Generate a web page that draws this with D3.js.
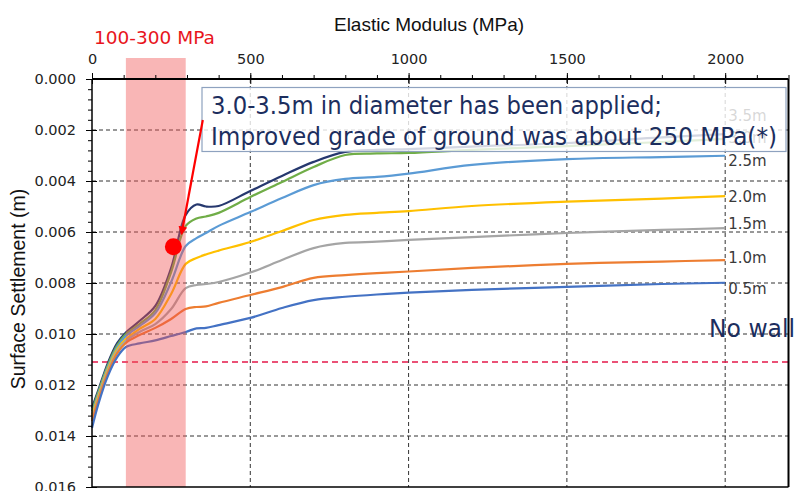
<!DOCTYPE html>
<html>
<head>
<meta charset="utf-8">
<script src="https://cdn.jsdelivr.net/npm/d3@7"></script>
<style>
  body { margin: 0; background: #fff; }
  svg { display: block; }
</style>
</head>
<body>
<script>
// elastic modulus of improved ground (MPa), shared by every series
const modulus = [0, 20, 50, 80, 107, 150, 200, 250, 296, 330, 360, 400, 500, 600, 700, 800, 900, 1000, 1200, 1500, 1800, 2000];

// surface settlement (m) for each wall diameter
const wall35 = [0.01290, 0.01220, 0.01114, 0.01035, 0.00994, 0.00949, 0.00890, 0.00741, 0.00533, 0.00492, 0.00500, 0.00498, 0.00439, 0.00380, 0.00325, 0.00286, 0.00278, 0.00275, 0.00265, 0.00251, 0.00229, 0.00216];
const wall30 = [0.01302, 0.01227, 0.01122, 0.01043, 0.01000, 0.00961, 0.00906, 0.00757, 0.00576, 0.00547, 0.00539, 0.00525, 0.00463, 0.00404, 0.00345, 0.00298, 0.00292, 0.00290, 0.00278, 0.00263, 0.00247, 0.00235];
const wall25 = [0.01314, 0.01235, 0.01129, 0.01051, 0.01008, 0.00969, 0.00918, 0.00796, 0.00655, 0.00624, 0.00604, 0.00576, 0.00522, 0.00467, 0.00416, 0.00392, 0.00384, 0.00371, 0.00337, 0.00314, 0.00306, 0.00301];
const wall20 = [0.01322, 0.01243, 0.01137, 0.01059, 0.01020, 0.00980, 0.00941, 0.00843, 0.00725, 0.00702, 0.00688, 0.00673, 0.00639, 0.00596, 0.00553, 0.00533, 0.00525, 0.00518, 0.00498, 0.00481, 0.00469, 0.00459];
const wall15 = [0.01333, 0.01251, 0.01145, 0.01067, 0.01027, 0.00992, 0.00961, 0.00902, 0.00820, 0.00808, 0.00804, 0.00796, 0.00759, 0.00710, 0.00663, 0.00643, 0.00638, 0.00631, 0.00620, 0.00604, 0.00592, 0.00585];
const wall10 = [0.01341, 0.01259, 0.01153, 0.01075, 0.01035, 0.01004, 0.00976, 0.00941, 0.00902, 0.00894, 0.00892, 0.00878, 0.00847, 0.00816, 0.00780, 0.00769, 0.00761, 0.00755, 0.00741, 0.00725, 0.00716, 0.00710];
const wall05 = [0.01369, 0.01275, 0.01165, 0.01090, 0.01051, 0.01037, 0.01025, 0.01008, 0.00992, 0.00978, 0.00976, 0.00965, 0.00937, 0.00898, 0.00867, 0.00854, 0.00845, 0.00838, 0.00827, 0.00815, 0.00804, 0.00799];

const seriesNames = ["3.5m", "3.0m", "2.5m", "2.0m", "1.5m", "1.0m", "0.5m"];
const seriesValues = [wall35, wall30, wall25, wall20, wall15, wall10, wall05];
const seriesColors = ["#26386e", "#70ad47", "#5b9bd5", "#ffc000", "#a5a5a5", "#ed7d31", "#4472c4"];
const labelDy = [-13, 4, 10, 6, 1, 3, 11];

const xTicks = [0, 500, 1000, 1500, 2000];
const yTicks = [0, 0.002, 0.004, 0.006, 0.008, 0.010, 0.012, 0.014, 0.016];

const noWallSettlement = 0.0111;
const improvedRange = [107, 296];
const chosenPoint = { e: 257, s: 0.00658 };
const arrowFrom = { e: 350, s: 0.00161 };
const arrowTo = { e: 283, s: 0.00606 };

const noteLines = ["3.0-3.5m in diameter has been applied;", "Improved grade of ground was about 250 MPa(*)"];

// dimensions
const margin = { top: 79, right: 6.5, bottom: 4, left: 92 },
    width = 795 - margin.left - margin.right,
    height = 491 - margin.top - margin.bottom;
const plotH = 408;

const svg = d3.select("body")
    .append("svg")
    .attr("width", 795)
    .attr("height", 491);

const g = svg.append("g")
    .attr("transform", `translate(${margin.left},${margin.top})`);

const x = d3.scaleLinear().domain([0, 2200]).range([0, width]);
const y = d3.scaleLinear().domain([0, 0.016]).range([0, plotH]);

const tickFont = "'DejaVu Sans', Verdana, sans-serif";

// grid
g.append("g")
    .selectAll("line")
    .data(yTicks.slice(1, -1))
    .join("line")
    .attr("x1", 0).attr("x2", width)
    .attr("y1", d => y(d)).attr("y2", d => y(d))
    .attr("stroke", "#333").attr("stroke-width", 1)
    .attr("stroke-dasharray", "4,3");

g.append("g")
    .selectAll("line")
    .data(xTicks.slice(1))
    .join("line")
    .attr("x1", d => x(d)).attr("x2", d => x(d))
    .attr("y1", 0).attr("y2", plotH)
    .attr("stroke", "#333").attr("stroke-width", 1)
    .attr("stroke-dasharray", "4,3");

// no wall reference line
g.append("line")
    .attr("x1", 0).attr("x2", width)
    .attr("y1", y(noWallSettlement)).attr("y2", y(noWallSettlement))
    .attr("stroke", "#e4184a").attr("stroke-width", 1.4)
    .attr("stroke-dasharray", "6,4");

// curves
const line = d3.line()
    .x((d, i) => x(modulus[i]))
    .y(d => y(d))
    .curve(d3.curveCatmullRom.alpha(0.5));

g.append("g")
    .selectAll("path")
    .data(seriesValues)
    .join("path")
    .attr("d", d => line(d))
    .attr("fill", "none")
    .attr("stroke", (d, i) => seriesColors[i])
    .attr("stroke-width", 2.2);

// series labels
g.append("g")
    .selectAll("text")
    .data(seriesNames)
    .join("text")
    .attr("x", x(2000) + 3)
    .attr("y", (d, i) => y(seriesValues[i][seriesValues[i].length - 1]) + labelDy[i])
    .attr("font-family", tickFont)
    .attr("font-size", 15)
    .attr("fill", "#3a3a3a")
    .text(d => d);

// 100-300 MPa band
g.append("rect")
    .attr("x", x(improvedRange[0]))
    .attr("width", x(improvedRange[1]) - x(improvedRange[0]))
    .attr("y", -21)
    .attr("height", height + 21)
    .attr("fill", "#f05050")
    .attr("fill-opacity", 0.42);

// axes
g.append("g")
    .call(d3.axisTop(x).tickValues(d3.range(0, 2201, 100)).tickSize(4).tickFormat(""))
    .call(a => a.select(".domain").remove());
g.append("g")
    .call(d3.axisTop(x).tickValues(xTicks).tickSize(-5).tickFormat(""))
    .call(a => a.select(".domain").remove());
g.append("g")
    .call(d3.axisTop(x).tickValues(xTicks).tickSize(6).tickPadding(9).tickFormat(d3.format("d")))
    .call(a => a.select(".domain").remove())
    .call(a => a.selectAll("text").attr("font-family", tickFont).attr("font-size", 14.5).attr("fill", "#222"));

g.append("g")
    .call(d3.axisLeft(y).tickValues(d3.range(0, 0.01601, 0.0004)).tickSize(4).tickFormat(""))
    .call(a => a.select(".domain").remove());
g.append("g")
    .call(d3.axisLeft(y).tickValues(yTicks).tickSize(-5).tickFormat(""))
    .call(a => a.select(".domain").remove());
g.append("g")
    .call(d3.axisLeft(y).tickValues(yTicks).tickSize(6).tickPadding(10).tickFormat(d3.format(".3f")))
    .call(a => a.select(".domain").remove())
    .call(a => a.selectAll("text").attr("font-family", tickFont).attr("font-size", 14.5).attr("fill", "#222"));

// plot frame
g.append("line").attr("x1", 0).attr("x2", width).attr("y1", 0).attr("y2", 0)
    .attr("stroke", "#000").attr("stroke-width", 2);
g.append("line").attr("x1", 0).attr("x2", 0).attr("y1", 0).attr("y2", plotH)
    .attr("stroke", "#000").attr("stroke-width", 1.5);
g.append("line").attr("x1", width).attr("x2", width).attr("y1", 0).attr("y2", plotH)
    .attr("stroke", "#000").attr("stroke-width", 2);
g.append("line").attr("x1", 0).attr("x2", width).attr("y1", plotH).attr("y2", plotH)
    .attr("stroke", "#000").attr("stroke-width", 1.5);

// axis titles
svg.append("text")
    .attr("x", 429).attr("y", 31)
    .attr("text-anchor", "middle")
    .attr("font-family", "'Liberation Sans', Arial, sans-serif")
    .attr("font-size", 19)
    .attr("fill", "#111")
    .text("Elastic Modulus (MPa)");

svg.append("text")
    .attr("transform", "translate(25,289) rotate(-90)")
    .attr("text-anchor", "middle")
    .attr("font-family", "'Liberation Sans', Arial, sans-serif")
    .attr("font-size", 19.5)
    .attr("fill", "#111")
    .text("Surface Settlement (m)");

svg.append("text")
    .attr("x", 94).attr("y", 44)
    .attr("font-family", tickFont)
    .attr("font-size", 18.5)
    .attr("fill", "#e8141c")
    .text("100-300 MPa");

// annotation box
g.append("rect")
    .attr("x", 110).attr("y", 8.5)
    .attr("width", 584).attr("height", 64)
    .attr("fill", "#fff").attr("fill-opacity", 0.8)
    .attr("stroke", "#8ea2bf").attr("stroke-width", 1.2);

g.append("g")
    .selectAll("text")
    .data(noteLines)
    .join("text")
    .attr("x", 119)
    .attr("y", (d, i) => 35 + i * 31)
    .attr("font-family", tickFont)
    .attr("font-size", 24)
    .attr("fill", "#1c2e5e")
    .attr("textLength", (d, i) => i === 0 ? 451 : 566)
    .attr("lengthAdjust", "spacingAndGlyphs")
    .text(d => d);

g.append("text")
    .attr("x", 617).attr("y", 258)
    .attr("font-family", tickFont)
    .attr("font-size", 24)
    .attr("fill", "#1c2e5e")
    .attr("textLength", 86)
    .attr("lengthAdjust", "spacingAndGlyphs")
    .text("No wall");

// arrow and marker
svg.append("defs").append("marker")
    .attr("id", "head")
    .attr("viewBox", "0 0 10 10")
    .attr("refX", 8).attr("refY", 5)
    .attr("markerWidth", 4).attr("markerHeight", 4)
    .attr("orient", "auto")
    .append("path")
    .attr("d", "M0,0L10,5L0,10z")
    .attr("fill", "#ff0000");

g.append("line")
    .attr("x1", x(arrowFrom.e)).attr("y1", y(arrowFrom.s))
    .attr("x2", x(arrowTo.e)).attr("y2", y(arrowTo.s))
    .attr("stroke", "#ff0000").attr("stroke-width", 2.2)
    .attr("marker-end", "url(#head)");

g.append("circle")
    .attr("cx", x(chosenPoint.e)).attr("cy", y(chosenPoint.s))
    .attr("r", 8.5)
    .attr("fill", "#ff0000");
</script>
</body>
</html>
